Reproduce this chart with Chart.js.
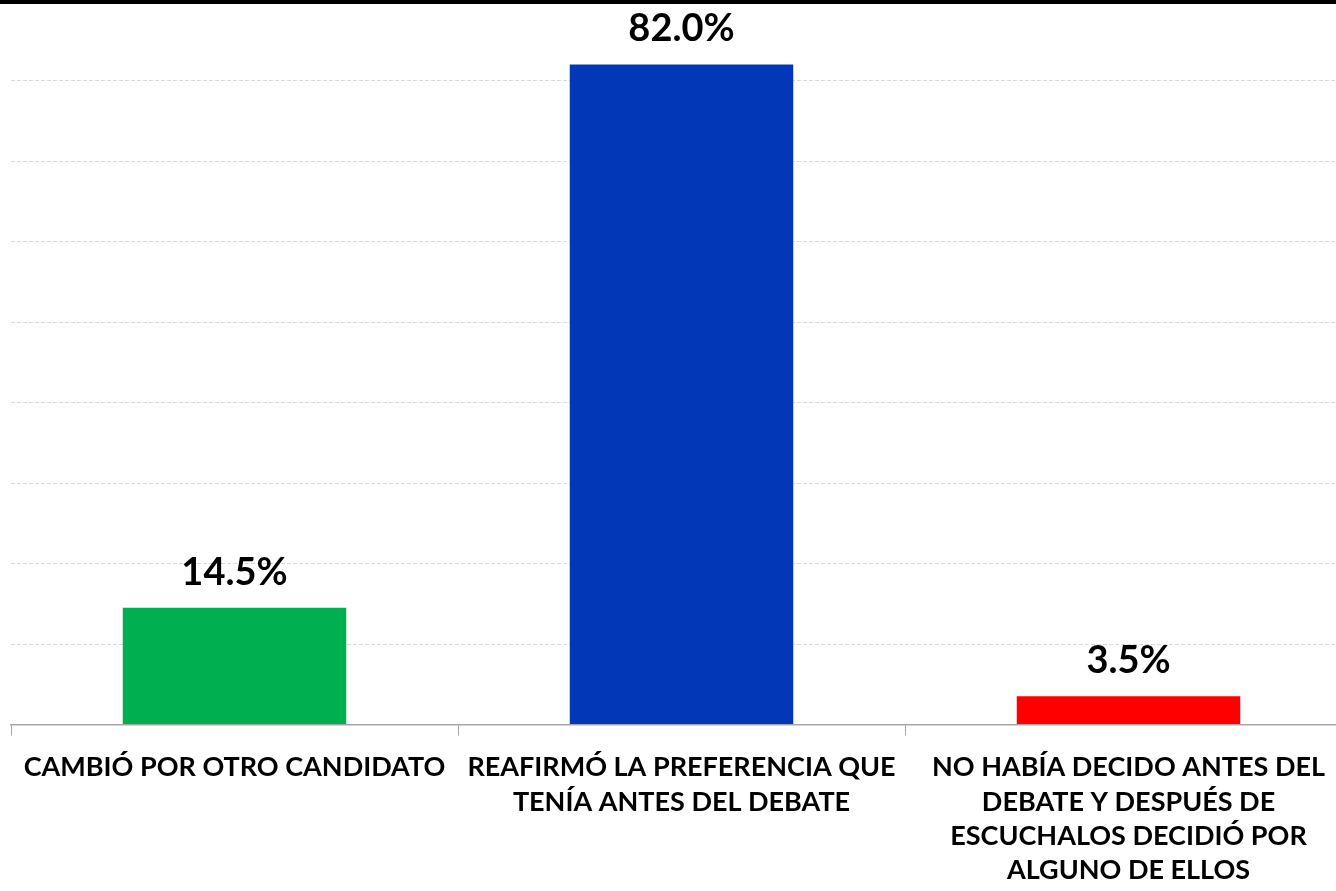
<!DOCTYPE html>
<html lang="es">
<head>
  <meta charset="UTF-8">
  <title>Preferencia después del debate</title>
  <style>
    html, body {
      margin: 0;
      padding: 0;
      background: #fff;
      overflow: hidden;
    }
    #topline {
      position: absolute;
      left: 0;
      top: 0;
      width: 1336px;
      height: 4px;
      background: #000;
      z-index: 2;
    }
    #wrap {
      position: relative;
      width: 1352px;
      height: 891px;
    }
  </style>
</head>
<body>
  <div id="topline"></div>
  <div id="wrap">
    <canvas id="chart"></canvas>
  </div>

  <script src="https://cdn.jsdelivr.net/npm/chart.js"></script>
  <script>
    // Datos
    const categorias = [
      ["CAMBIÓ POR OTRO CANDIDATO"],
      ["REAFIRMÓ LA PREFERENCIA QUE", "TENÍA ANTES DEL DEBATE"],
      ["NO HABÍA DECIDO ANTES DEL", "DEBATE Y DESPUÉS DE", "ESCUCHALOS DECIDIÓ POR", "ALGUNO DE ELLOS"]
    ];
    const valores = [14.5, 82.0, 3.5];
    const colores = ["#00B050", "#0238B8", "#FF0000"];

    // Etiquetas de valor encima de cada barra
    const etiquetasValor = {
      id: "etiquetasValor",
      afterDatasetsDraw(chart) {
        const ctx = chart.ctx;
        const meta = chart.getDatasetMeta(0);
        ctx.save();
        ctx.font = "bold 38px Lato";
        ctx.fillStyle = "#000";
        ctx.textAlign = "center";
        ctx.textBaseline = "alphabetic";
        meta.data.forEach((bar, i) => {
          ctx.fillText(valores[i].toFixed(1) + "%", bar.x, bar.y - 23);
        });
        ctx.restore();
      }
    };

    new Chart(document.getElementById("chart"), {
      type: "bar",
      data: {
        labels: categorias,
        datasets: [{
          data: valores,
          backgroundColor: colores,
          categoryPercentage: 1.0,
          barPercentage: 0.5
        }]
      },
      options: {
        responsive: true,
        maintainAspectRatio: false,
        animation: false,
        layout: {
          padding: { left: 11, right: 0, top: 0, bottom: 0 }
        },
        plugins: {
          legend: { display: false },
          tooltip: { enabled: false }
        },
        scales: {
          x: {
            // alto fijo del eje para que la línea base quede donde en el original
            afterFit(scale) { scale.height = 166.5; },
            grid: {
              offset: true,
              drawOnChartArea: false,
              drawTicks: true,
              tickLength: 11,
              color: "#A6A6A6"
            },
            border: { display: true, color: "#A6A6A6", width: 1.5 },
            ticks: {
              color: "#000",
              font: { family: "Lato", weight: "bold", size: 27, lineHeight: 1.27 },
              padding: 15,
              maxRotation: 0,
              autoSkip: false
            }
          },
          y: {
            min: 0,
            max: 90,
            ticks: { display: false, stepSize: 10 },
            grid: {
              color: "#D9D9D9",
              lineWidth: 1,
              drawTicks: false
            },
            border: { display: false, dash: [4, 2] }
          }
        }
      },
      plugins: [etiquetasValor]
    });
  </script>
</body>
</html>
